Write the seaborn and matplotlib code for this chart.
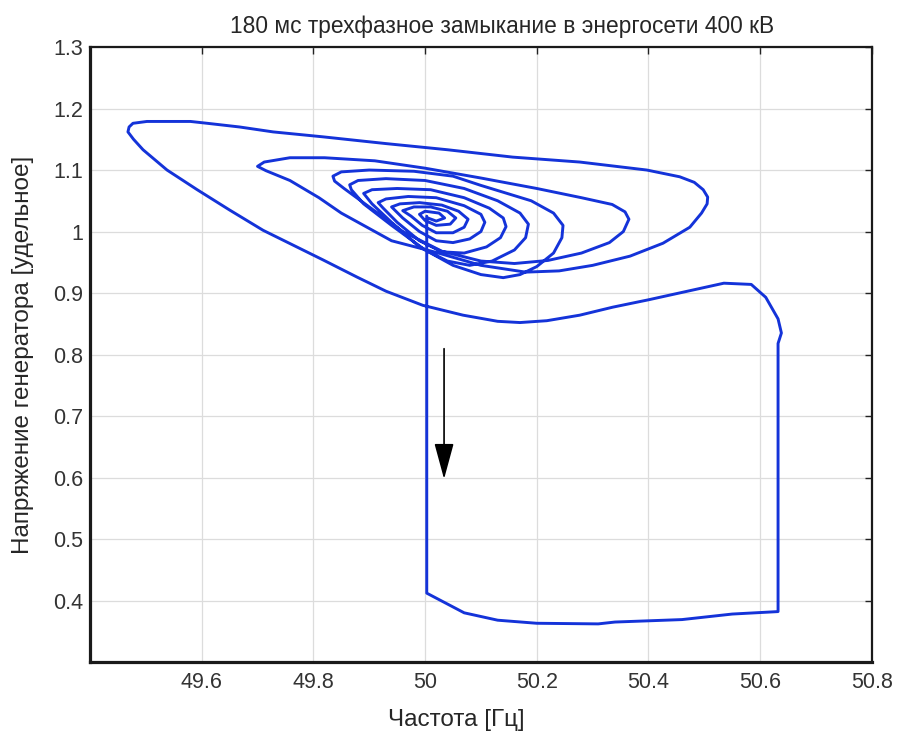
import numpy as np
import pandas as pd
import matplotlib
matplotlib.use("Agg")
import matplotlib.pyplot as plt
from matplotlib.ticker import FuncFormatter
import seaborn as sns

# fault: voltage drop at 50 Hz and the frequency rise during the fault
fault_freq = [50.003, 50.003, 50.045, 50.07, 50.13, 50.2, 50.31, 50.34, 50.46, 50.55, 50.632]
fault_volt = [1.025, 0.412, 0.392, 0.38, 0.368, 0.363, 0.362, 0.365, 0.369, 0.378, 0.382]

# after clearing: recovery and first big swing
swing_freq = [50.632, 50.638, 50.632, 50.61, 50.584, 50.535, 50.46, 50.4, 50.336, 50.277,
              50.218, 50.17, 50.13, 50.068, 49.996, 49.93, 49.878, 49.817, 49.77, 49.71, 49.65,
              49.592, 49.538, 49.495, 49.478, 49.468, 49.47, 49.477, 49.502, 49.58, 49.61, 49.668,
              49.728, 49.817, 49.93, 50.04, 50.157, 50.277, 50.397, 50.456, 50.482, 50.498, 50.506,
              50.505, 50.495, 50.474, 50.426, 50.367, 50.30, 50.24, 50.18, 50.1, 50.02, 49.94,
              49.85, 49.81, 49.758, 49.715, 49.70]
swing_volt = [0.818, 0.835, 0.858, 0.893, 0.914, 0.916, 0.901, 0.889, 0.877, 0.864,
              0.855, 0.852, 0.854, 0.864, 0.88, 0.903, 0.926, 0.954, 0.975, 1.002, 1.035,
              1.068, 1.10, 1.133, 1.150, 1.162, 1.170, 1.176, 1.179, 1.179, 1.176, 1.17,
              1.162, 1.154, 1.143, 1.133, 1.121, 1.113, 1.10, 1.089, 1.080, 1.068, 1.056,
              1.045, 1.030, 1.007, 0.981, 0.96, 0.945, 0.936, 0.934, 0.945, 0.966, 0.985,
              1.03, 1.055, 1.083, 1.099, 1.106]

# damped oscillation spiralling into the new operating point
spiral_freq = [49.712, 49.758, 49.82, 49.91, 50.0, 50.1, 50.2, 50.28, 50.335, 50.358,
               50.365, 50.355, 50.33, 50.28, 50.22, 50.16, 50.1, 50.03, 49.96, 49.9,
               49.855, 49.838, 49.835,
               49.85, 49.9, 49.98, 50.05, 50.1, 50.19, 50.23, 50.247, 50.245, 50.23,
               50.2, 50.17, 50.14, 50.1, 50.05, 50.0, 49.94, 49.89, 49.868, 49.865,
               49.88, 49.93, 50.0, 50.07, 50.13, 50.17, 50.185, 50.18, 50.16, 50.12,
               50.08, 50.04, 49.99, 49.94, 49.905, 49.89,
               49.905, 49.95, 50.01, 50.07, 50.115, 50.14, 50.145, 50.135, 50.11, 50.07,
               50.03, 49.99, 49.95, 49.925, 49.916,
               49.93, 49.97, 50.02, 50.07, 50.1, 50.107, 50.1, 50.08, 50.05, 50.02,
               49.99, 49.96, 49.94,
               49.955, 49.99, 50.03, 50.06, 50.077, 50.07, 50.05, 50.02, 49.995, 49.975,
               49.96,
               49.98, 50.01, 50.04, 50.055, 50.045, 50.02, 50.0, 49.99, 50.0, 50.025,
               50.035, 50.02, 50.005]
spiral_volt = [1.113, 1.12, 1.12, 1.115, 1.103, 1.087, 1.07, 1.055, 1.044, 1.032,
               1.02, 1.0, 0.982, 0.965, 0.953, 0.948, 0.952, 0.968, 1.0, 1.04,
               1.07, 1.082, 1.090,
               1.097, 1.1, 1.098, 1.09, 1.075, 1.05, 1.03, 1.01, 0.99, 0.965,
               0.943, 0.93, 0.925, 0.93, 0.945, 0.97, 1.01, 1.045, 1.068, 1.076,
               1.083, 1.086, 1.083, 1.07, 1.05, 1.03, 1.012, 0.99, 0.97, 0.952,
               0.945, 0.952, 0.975, 1.015, 1.045, 1.062,
               1.068, 1.07, 1.068, 1.055, 1.038, 1.022, 1.008, 0.99, 0.975, 0.965,
               0.967, 0.985, 1.015, 1.038, 1.047,
               1.053, 1.057, 1.055, 1.042, 1.028, 1.015, 1.0, 0.988, 0.982, 0.985,
               1.0, 1.022, 1.04,
               1.045, 1.047, 1.043, 1.033, 1.02, 1.007, 0.998, 0.998, 1.01, 1.025,
               1.034,
               1.04, 1.04, 1.033, 1.022, 1.012, 1.01, 1.018, 1.028, 1.033, 1.03,
               1.022, 1.017, 1.022]

x_ticks = [49.6, 49.8, 50.0, 50.2, 50.4, 50.6, 50.8]
y_ticks = [0.4, 0.5, 0.6, 0.7, 0.8, 0.9, 1.0, 1.1, 1.2, 1.3]

freq = fault_freq + swing_freq + spiral_freq
volt = fault_volt + swing_volt + spiral_volt
df = pd.DataFrame({"freq": freq, "volt": volt, "step": np.arange(len(freq))})

sns.set_style("whitegrid")
plt.rcParams["font.family"] = ["Liberation Sans", "DejaVu Sans"]

fig = plt.figure(figsize=(8.97, 7.35), dpi=100)
ax = fig.add_axes([0.1003, 0.0993, 0.8717, 0.8367])

sns.lineplot(data=df, x="freq", y="volt", sort=False, estimator=None,
             color="#1433d9", linewidth=2.1, ax=ax)

ax.annotate("", xy=(50.034, 0.593), xytext=(50.034, 0.814),
            arrowprops=dict(arrowstyle="-|>,head_length=1.4,head_width=0.38",
                            color="black", lw=1.2, mutation_scale=16))

ax.set_xlim(49.4, 50.8)
ax.set_ylim(0.3, 1.3)
ax.set_xticks(x_ticks)
ax.set_yticks(y_ticks)
fmt = FuncFormatter(lambda v, p: f"{v:g}")
ax.xaxis.set_major_formatter(fmt)
ax.yaxis.set_major_formatter(fmt)
ax.grid(True, color="#dcdcdc", linewidth=0.9)
ax.tick_params(direction="in", length=5, width=1, top=True, right=True,
               labelsize=15.5, labelcolor="#333333", colors="#222222")
ax.tick_params(axis="x", pad=7)
ax.tick_params(axis="y", pad=5)

for side in ["left", "bottom"]:
    ax.spines[side].set_linewidth(2.3)
    ax.spines[side].set_color("#1a1a1a")
for side in ["top", "right"]:
    ax.spines[side].set_linewidth(1.6)
    ax.spines[side].set_color("#1a1a1a")

ax.set_title("180 мс трехфазное замыкание в энергосети 400 кВ", fontsize=16.4,
             pad=10, x=0.527)
ax.set_xlabel("Частота [Гц]", fontsize=17.5)
ax.set_ylabel("Напряжение генератора [удельное]", fontsize=17.5)
ax.xaxis.set_label_coords(0.469, -0.076)
ax.yaxis.set_label_coords(-0.071, 0.5)

fig.savefig("out.png", dpi=100)
